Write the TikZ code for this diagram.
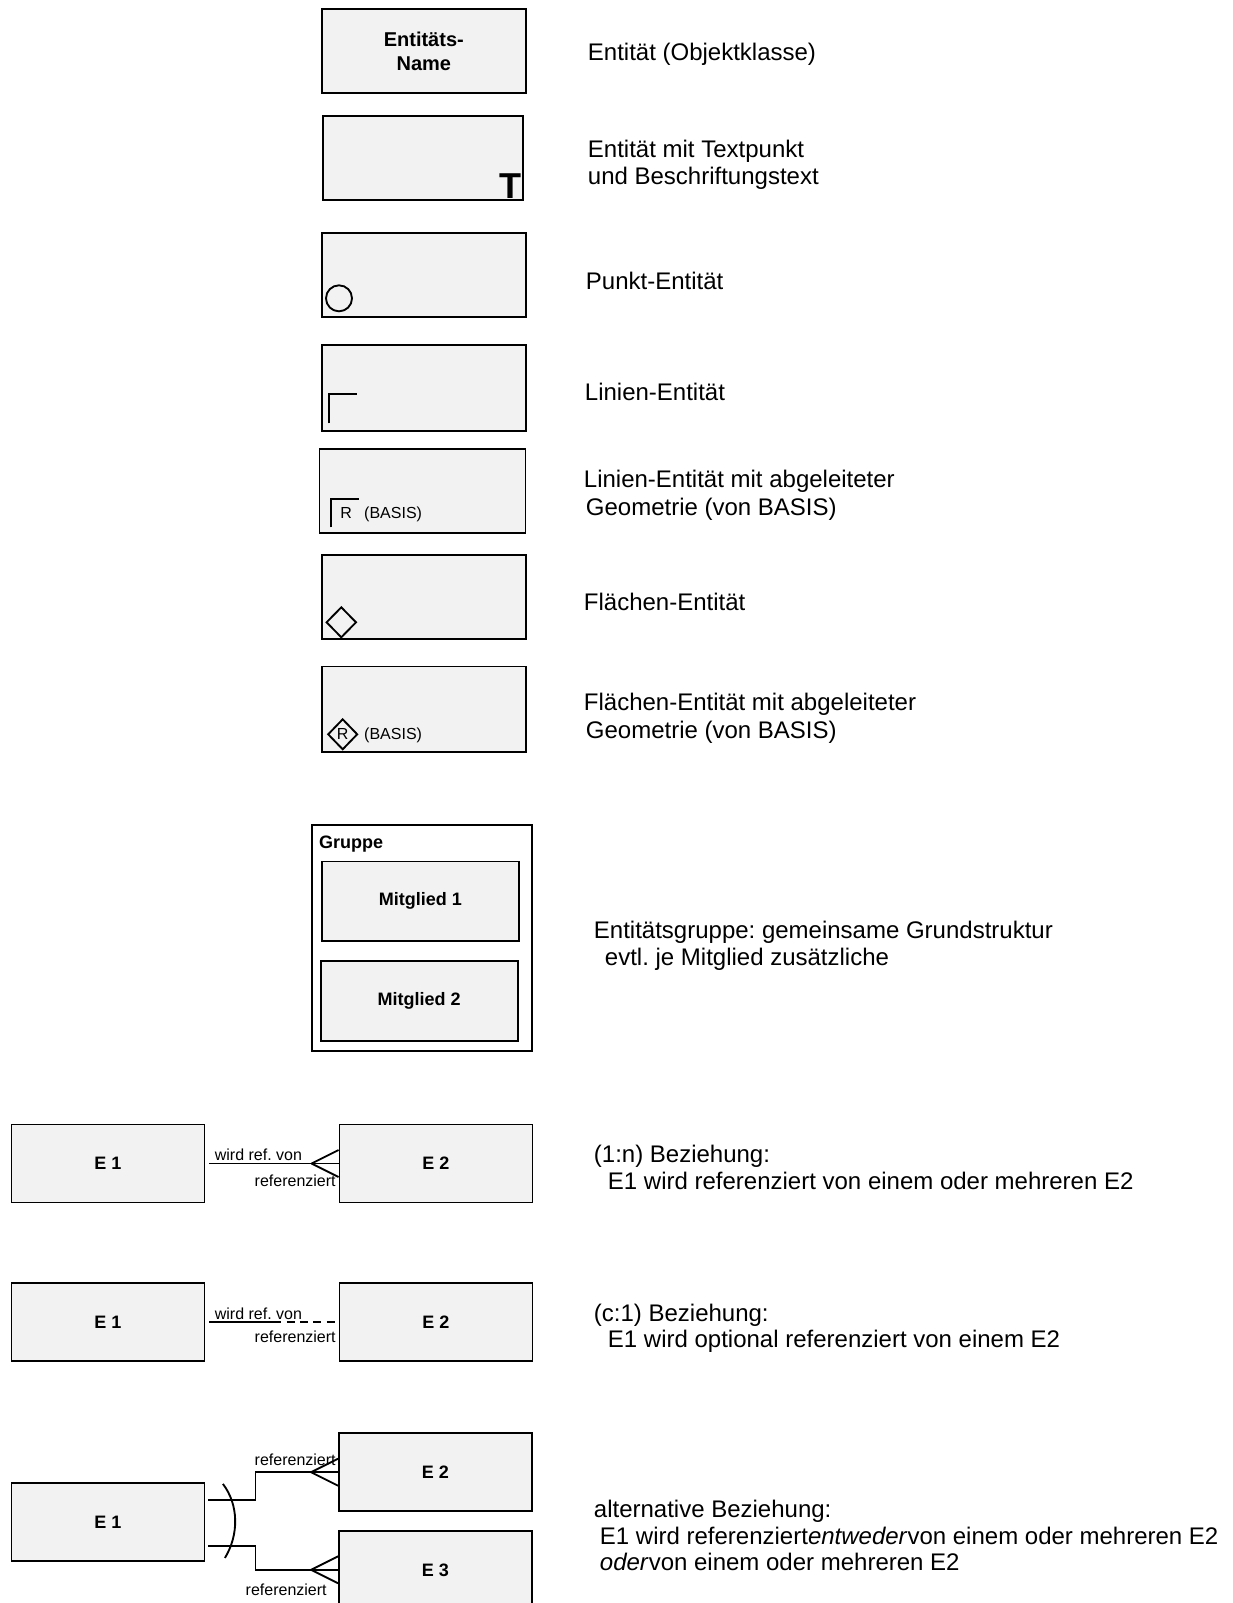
\documentclass[tikz,border=0pt]{standalone}
\usepackage{fontspec}
\setmainfont{Liberation Sans}
\frenchspacing
\definecolor{entgrey}{HTML}{F2F2F2}

\begin{document}
\begin{tikzpicture}[x=.75pt,y=-.75pt,line width=1.4pt,font=\fontsize{18}{20.5}\selectfont,
  ent/.style={draw,fill=entgrey,inner sep=0pt,minimum width=153pt,minimum height=63pt,font=\bfseries\fontsize{13.5}{16}\selectfont},
  row/.style={ent,minimum width=144.75pt,minimum height=58.5pt},
  txt/.style={anchor=base west,inner sep=0pt},
  lbl/.style={inner sep=0pt,font=\fontsize{12}{14}\selectfont},
  opt/.style={dash pattern=on 6pt off 4pt}]
\useasboundingbox (0,0) rectangle (1232,1603);
\clip (0,0) rectangle (1232,1603);
% entity types
\node[ent,font=\bfseries\fontsize{15}{18}\selectfont,align=center] (ename) at (423.8,51.3) {Entitäts-\\Name};
\node[ent,minimum width=150pt] (etext) at (423.3,158) {};
\node[ent] (epoint) at (423.7,275.3) {};
\node[ent,minimum height=64pt] (eline) at (423.8,388) {};
\node[ent,minimum width=154.5pt] (elineR) at (422.5,491.3) {};
\node[ent] (earea) at (423.7,597.2) {};
\node[ent,minimum height=64pt] (eareaR) at (423.7,709.2) {};
\node[anchor=base east,inner sep=0pt,font=\bfseries\fontsize{27}{30}\selectfont] (tpt) at (522,198) {T};
\draw (339,298.3) circle[radius=9.75pt];
\draw (329.3,423.3)--(329.3,394)--(357.3,394);
\draw (330.7,527.3)--(330.7,498.7)--(359.3,498.7);
\node[lbl,anchor=base west] (rl) at (339.5,518.5) {R};
\node[lbl,anchor=base west] (bl) at (363.3,518.5) {(BASIS)};
\draw (341.3,622.3)+(-14.7,0)--+(0,-15)--+(14.7,0)--+(0,15)--cycle;
\draw (342.7,734.3)+(-14.5,0)--+(0,-15)--+(14.5,0)--+(0,15)--cycle;
\node[lbl] (ra) at (342.7,734.3) {R};
\node[lbl,anchor=base west] (ba) at (363.3,739) {(BASIS)};
% group
\node[draw,minimum width=165.5pt,minimum height=169.3pt] (grp) at (422,937.8) {};
\node[txt,font=\bfseries\fontsize{13.5}{16}\selectfont] (gname) at (318.3,848) {Gruppe};
\node[ent,minimum width=147.75pt,minimum height=59.5pt] (mem1) at (420.3,901.2) {Mitglied 1};
\node[ent,minimum width=147.75pt,minimum height=59.7pt] (mem2) at (419.2,1000.8) {Mitglied 2};
% relationships
\node[row] (e1a) at (108,1163.5) {E 1};
\node[row] (e2a) at (436,1163.5) {E 2};
\node[row] (e1b) at (108,1322.4) {E 1};
\node[row] (e2b) at (436,1322.4) {E 2};
\node[row] (e1c) at (108,1521.9) {E 1};
\node[row] (e2c) at (435.5,1472.2) {E 2};
\node[row] (e3c) at (435.5,1569.8) {E 3};
\draw ([shift={(4,0)}]e1a.east)--(e2a.west);
\draw ([shift={(-27,0)}]e2a.west)--([shift={(0,-13.5)}]e2a.west) ([shift={(-27,0)}]e2a.west)--([shift={(0,13.5)}]e2a.west);
\node[lbl,anchor=base west] (wa) at ([shift={(8.5,-3)}]e1a.east) {wird ref. von};
\node[lbl,anchor=base east] (ra2) at ([shift={(-2,23)}]e2a.west) {referenziert};
\coordinate (db) at ([shift={(68,0)}]e1b.east);
\draw ([shift={(4,0)}]e1b.east)--(db);
\draw[opt] (db)--(e2b.west);
\node[lbl,anchor=base west] (wb) at ([shift={(8.5,-3)}]e1b.east) {wird ref. von};
\node[lbl,anchor=base east] (rb) at ([shift={(-2,20)}]e2b.west) {referenziert};
\coordinate (fork) at ([shift={(50,0)}]e1c.east);
\draw ([shift={(3,-22)}]e1c.east)-|(fork |- e2c.west)--(e2c.west);
\draw ([shift={(3,24)}]e1c.east)-|(fork |- e3c.west)--(e3c.west);
\draw ([shift={(-27,0)}]e2c.west)--([shift={(0,-13.5)}]e2c.west) ([shift={(-27,0)}]e2c.west)--([shift={(0,13.5)}]e2c.west);
\draw ([shift={(-27,0)}]e3c.west)--([shift={(0,-13.5)}]e3c.west) ([shift={(-27,0)}]e3c.west)--([shift={(0,13.5)}]e3c.west);
\draw ([shift={(17.5,-38)}]e1c.east)..controls ([shift={(33.5,-17)}]e1c.east) and ([shift={(33.5,13)}]e1c.east)..([shift={(19.5,36)}]e1c.east);
\node[lbl,anchor=base east] (rc) at ([shift={(-1.5,-7)}]e2c.west) {referenziert};
\node[lbl,anchor=base east] (rd) at ([shift={(-10.5,26)}]e3c.west) {referenziert};
% descriptions
\node[txt] (t1) at (587,60) {Entität (Objektklasse)};
\node[txt] (t2) at (587,157) {Entität mit Textpunkt};
\node[txt] (t3) at (587,184) {und Beschriftungstext};
\node[txt] (t4) at (585,289) {Punkt-Entität};
\node[txt] (t5) at (584,400) {Linien-Entität};
\node[txt] (t6) at (583,487) {Linien-Entität mit abgeleiteter};
\node[txt] (t7) at (585,515) {Geometrie (von BASIS)};
\node[txt] (t8) at (583,610) {Flächen-Entität};
\node[txt] (t9) at (583,710) {Flächen-Entität mit abgeleiteter};
\node[txt] (t10) at (585,738) {Geometrie (von BASIS)};
\node[txt] (t11) at (593,938) {Entitätsgruppe: gemeinsame Grundstruktur};
\node[txt] (t12) at (604,965) {evtl. je Mitglied zusätzliche};
\node[txt] (t13) at (593,1162) {(1:n) Beziehung:};
\node[txt] (t14) at (607,1189) {E1 wird referenziert von einem oder mehreren E2};
\node[txt] (t15) at (593,1321) {(c:1) Beziehung:};
\node[txt] (t16) at (607,1347) {E1 wird optional referenziert von einem E2};
\node[txt] (t17) at (593,1517) {alternative Beziehung:};
\node[txt] (t18) at (599,1544) {E1 wird referenziert\textit{entweder}von einem oder mehreren E2};
\node[txt] (t19) at (599,1570) {\textit{oder}von einem oder mehreren E2};
\end{tikzpicture}
\end{document}
